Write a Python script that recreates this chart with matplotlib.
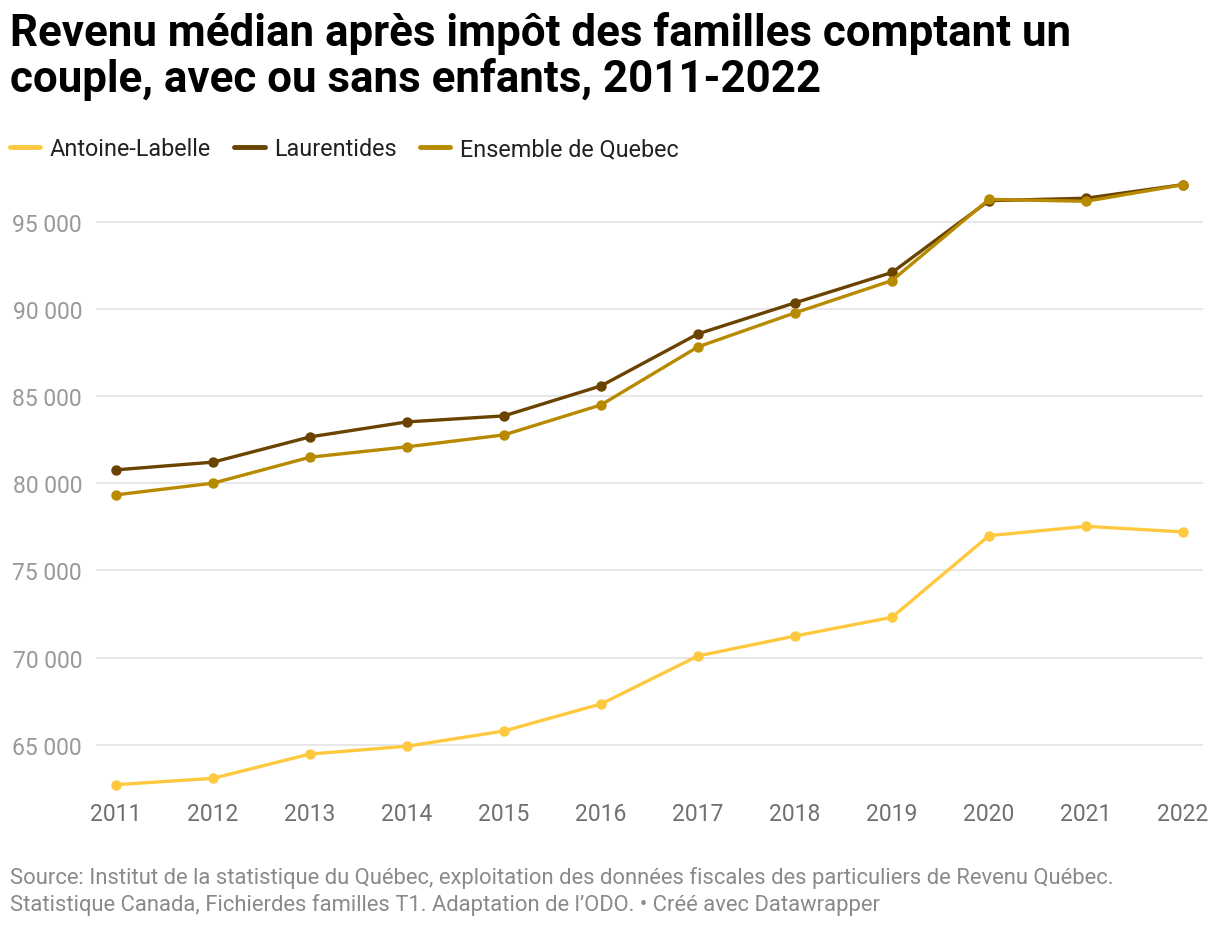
import matplotlib
matplotlib.use("Agg")
import matplotlib.pyplot as plt
from matplotlib.ticker import FuncFormatter

plt.rcParams["font.family"] = ["Roboto", "DejaVu Sans"]

years = [2011, 2012, 2013, 2014, 2015, 2016, 2017, 2018, 2019, 2020, 2021, 2022]
antoine = [62705, 63070, 64465, 64910, 65785, 67335, 70090, 71235, 72310, 76990, 77525, 77205]
laurentides = [80765, 81205, 82655, 83515, 83860, 85580, 88565, 90345, 92085, 96205, 96345, 97125]
quebec = [79330, 80000, 81490, 82085, 82770, 84490, 87820, 89770, 91625, 96280, 96170, 97120]

series = [("Antoine-Labelle", antoine, "#fec93f"),
          ("Laurentides", laurentides, "#6a4300"),
          ("Ensemble de Quebec", quebec, "#b88a00")]

yticks = [65000, 70000, 75000, 80000, 85000, 90000, 95000]

fig = plt.figure(figsize=(12.2, 9.28), dpi=100)
ax = fig.add_axes([96/1220, 1-794.5/928, (1203-96)/1220, (794.5-175.6)/928])

for name, vals, col in series:
    ax.plot(years, vals, color=col, lw=2.4, marker="o", ms=6.5, label=name,
            solid_capstyle="round", zorder=3)

ax.set_xlim(2010.794, 2022.206)
ax.set_ylim(62200, 97700)
ax.set_xticks(years)
ax.set_yticks(yticks)
ax.yaxis.set_major_formatter(FuncFormatter(lambda v, p: f"{int(v):,}".replace(",", " ")))
ax.grid(axis="y", color="#e3e3e3", lw=1.2)
ax.set_axisbelow(True)
for s in ax.spines.values():
    s.set_visible(False)
ax.tick_params(axis="y", length=0, pad=10, labelsize=16.5, labelcolor="#999999")
ax.tick_params(axis="x", length=0, pad=6, labelsize=16.5, labelcolor="#707070")

fig.text(10/1220, 1-12/928, "Revenu médian après impôt des familles comptant un\ncouple, avec ou sans enfants, 2011-2022",
         ha="left", va="top", fontsize=31.6, fontweight="bold", linespacing=1.1, color="#000000")

leg = fig.legend(loc="upper left", bbox_to_anchor=(10/1220, 1-138/928), ncol=3, frameon=False,
                 fontsize=16.8, handlelength=1.3, handletextpad=0.4, columnspacing=1.0,
                 borderaxespad=0, borderpad=0, labelcolor="#222222")
for h in leg.legend_handles:
    h.set_marker("")
    h.set_linewidth(3.5)

fig.text(10/1220, 1-867/928,
         "Source: Institut de la statistique du Québec, exploitation des données fiscales des particuliers de Revenu Québec.\n"
         "Statistique Canada, Fichierdes familles T1. Adaptation de l’ODO. • Créé avec Datawrapper",
         ha="left", va="top", fontsize=15.8, color="#8a8a8a", linespacing=1.3)

fig.savefig("out.png", dpi=100)
